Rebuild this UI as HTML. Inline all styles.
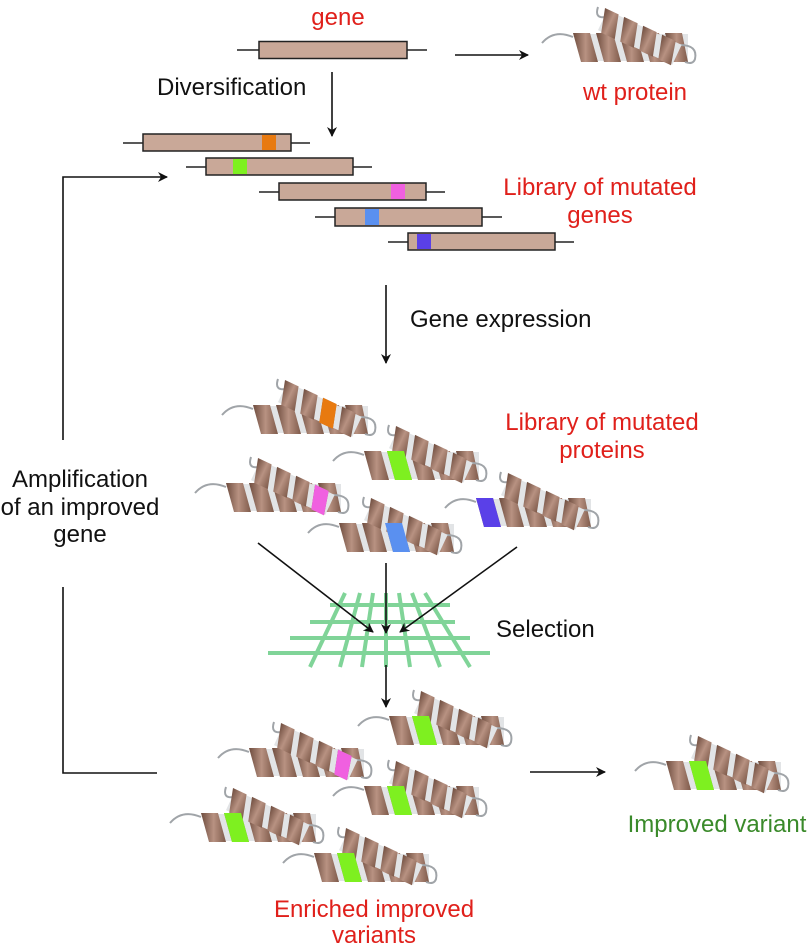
<!DOCTYPE html>
<html><head><meta charset="utf-8"><style>
html,body{margin:0;padding:0;background:#fff;}
svg{display:block;}
text{font-family:"Liberation Sans",Arial,sans-serif;font-size:24px;}
.r{fill:#e0201b;}
.k{fill:#111;}
.g{fill:#3a8a2a;}
</style></head><body>
<svg width="808" height="952" viewBox="0 0 808 952" xmlns="http://www.w3.org/2000/svg">
<defs>
<linearGradient id="br" x1="0" y1="0" x2="1" y2="0">
<stop offset="0" stop-color="#6e4c3e"/><stop offset="0.5" stop-color="#b89282"/><stop offset="1" stop-color="#7e5a4a"/>
</linearGradient>
<marker id="ah" markerWidth="10" markerHeight="10" refX="9" refY="5" orient="auto" markerUnits="userSpaceOnUse">
<path d="M0,0 L10,5 L0,10 L3,5 z" fill="#111"/>
</marker>
<g id="p">
<path d="M0,38 Q12,24 31,32" fill="none" stroke="#a0a4a8" stroke-width="2"/>
<g>
<polygon points="33,29 146,29 146,56 40,56" fill="#e2e4e6"/>
<polygon points="31,28 48,28 56,57 39,57" fill="url(#br)"/>
<polygon points="54,28 71,28 79,57 62,57" fill="url(#br)"/>
<polygon points="77,28 94,28 102,57 85,57" fill="url(#br)"/>
<polygon points="100,28 117,28 125,57 108,57" fill="url(#br)"/>
<polygon points="123,28 140,28 146,57 131,57" fill="url(#br)"/>
</g>
<path d="M56,2 Q52,14 64,12" fill="none" stroke="#a0a4a8" stroke-width="2"/>
<path d="M138,40 Q156,40 153,54 Q151,60 143,57" fill="none" stroke="#a0a4a8" stroke-width="2"/>
<g transform="translate(63,3) rotate(25)">
<rect x="3" y="1" width="82" height="22" fill="#e2e4e6"/>
<polygon points="0,0 15,0 22,24 7,24" fill="url(#br)"/>
<polygon points="21,0 36,0 43,24 28,24" fill="url(#br)"/>
<polygon points="42,0 57,0 64,24 49,24" fill="url(#br)"/>
<polygon points="63,0 78,0 84,24 70,24" fill="url(#br)"/>
</g>
</g>
<polygon id="lo1" points="54,28 71,28 79,57 62,57"/>
<polygon id="lo0" points="31,28 48,28 56,57 39,57"/>
<polygon id="lo2" points="77,28 94,28 102,57 85,57"/>
<g id="up2"><polygon transform="translate(63,3) rotate(25)" points="42,0 57,0 64,24 49,24"/></g>
<g id="up3"><polygon transform="translate(63,3) rotate(25)" points="63,0 78,0 84,24 70,24"/></g>
</defs>

<text x="338" y="25" text-anchor="middle" class="r">gene</text>
<text x="635" y="100" text-anchor="middle" class="r">wt protein</text>
<text x="157" y="95" class="k">Diversification</text>
<text x="600" y="195" text-anchor="middle" class="r">Library of mutated</text>
<text x="600" y="223" text-anchor="middle" class="r">genes</text>
<text x="410" y="327" class="k">Gene expression</text>
<text x="602" y="430" text-anchor="middle" class="r">Library of mutated</text>
<text x="602" y="458" text-anchor="middle" class="r">proteins</text>
<text x="80" y="487" text-anchor="middle" class="k">Amplification</text>
<text x="80" y="515" text-anchor="middle" class="k">of an improved</text>
<text x="80" y="542" text-anchor="middle" class="k">gene</text>
<text x="496" y="637" class="k">Selection</text>
<text x="374" y="917" text-anchor="middle" class="r">Enriched improved</text>
<text x="374" y="943" text-anchor="middle" class="r">variants</text>
<text x="717" y="832" text-anchor="middle" class="g">Improved variant</text>

<g stroke="#222" stroke-width="1.5">
<line x1="237" y1="50" x2="427" y2="50"/>
<rect x="259" y="41.5" width="148" height="17" fill="#c9a898"/>
<line x1="123" y1="143" x2="310" y2="143"/>
<rect x="143" y="134" width="148" height="17" fill="#c9a898"/>
<line x1="186" y1="167" x2="372" y2="167"/>
<rect x="206" y="158" width="147" height="17" fill="#c9a898"/>
<line x1="259" y1="192" x2="445" y2="192"/>
<rect x="279" y="183" width="147" height="17" fill="#c9a898"/>
<line x1="315" y1="217" x2="502" y2="217"/>
<rect x="335" y="208" width="147" height="18" fill="#c9a898"/>
<line x1="388" y1="242" x2="574" y2="242"/>
<rect x="408" y="233" width="147" height="17" fill="#c9a898"/>
</g>
<rect x="262" y="135" width="14" height="15" fill="#e87a10"/>
<rect x="233" y="159" width="14" height="15" fill="#7ef020"/>
<rect x="391" y="184" width="14" height="15" fill="#f060e0"/>
<rect x="365" y="209" width="14" height="16" fill="#5a90f0"/>
<rect x="417" y="234" width="14" height="15" fill="#5a40e8"/>

<g stroke="#80d498" stroke-width="4" fill="none">
<line x1="330" y1="605" x2="450" y2="605"/>
<line x1="310" y1="622" x2="455" y2="622"/>
<line x1="290" y1="638" x2="470" y2="638"/>
<line x1="268" y1="653" x2="490" y2="653"/>
<line x1="345" y1="593" x2="310" y2="667"/>
<line x1="360" y1="593" x2="340" y2="667"/>
<line x1="373" y1="593" x2="362" y2="667"/>
<line x1="386" y1="593" x2="386" y2="667"/>
<line x1="399" y1="593" x2="410" y2="667"/>
<line x1="412" y1="593" x2="440" y2="667"/>
<line x1="425" y1="593" x2="470" y2="667"/>
</g>

<g stroke="#111" stroke-width="1.6" fill="none" marker-end="url(#ah)">
<line x1="332" y1="72" x2="332" y2="136"/>
<line x1="455" y1="55" x2="528" y2="55"/>
<line x1="386" y1="285" x2="386" y2="363"/>
<polyline points="63,440 63,177 167,177"/>
<line x1="258" y1="543" x2="373" y2="632"/>
<line x1="386" y1="563" x2="386" y2="633"/>
<line x1="517" y1="547" x2="400" y2="632"/>
<line x1="386" y1="665" x2="386" y2="707"/>
<line x1="530" y1="772" x2="605" y2="772"/>
</g>
<polyline points="63,587 63,773 157,773" fill="none" stroke="#111" stroke-width="1.6"/>

<use href="#p" x="542" y="5"/>
<g transform="translate(222,377)"><use href="#p"/><use href="#up2" fill="#e87a10"/></g>
<g transform="translate(333,423)"><use href="#p"/><use href="#lo1" fill="#7ef020"/></g>
<g transform="translate(195,455)"><use href="#p"/><use href="#up3" fill="#f060e0"/></g>
<g transform="translate(445,470)"><use href="#p"/><use href="#lo0" fill="#5a40e8"/></g>
<g transform="translate(308,495)"><use href="#p"/><use href="#lo2" fill="#5a90f0"/></g>
<g transform="translate(358,688)"><use href="#p"/><use href="#lo1" fill="#7ef020"/></g>
<g transform="translate(218,720)"><use href="#p"/><use href="#up3" fill="#f060e0"/></g>
<g transform="translate(333,758)"><use href="#p"/><use href="#lo1" fill="#7ef020"/></g>
<g transform="translate(170,785)"><use href="#p"/><use href="#lo1" fill="#7ef020"/></g>
<g transform="translate(283,825)"><use href="#p"/><use href="#lo1" fill="#7ef020"/></g>
<g transform="translate(635,733)"><use href="#p"/><use href="#lo1" fill="#7ef020"/></g>
</svg>
</body></html>
